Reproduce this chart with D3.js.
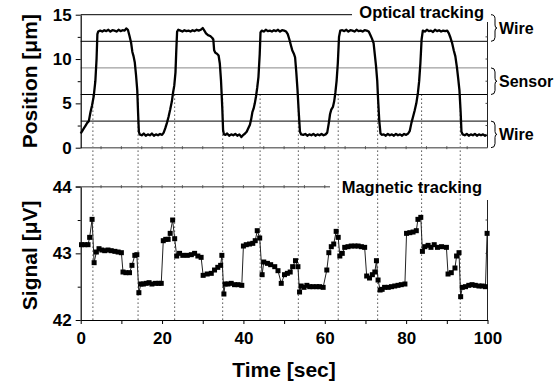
<!DOCTYPE html>
<html>
<head>
<meta charset="utf-8">
<script src="https://cdn.jsdelivr.net/npm/d3@7"></script>
<style>
  body { margin: 0; background: #fff; }
  svg { font-family: "Liberation Sans", Arial, sans-serif; font-weight: bold; }
</style>
</head>
<body>
<svg id="chart" width="557" height="385"></svg>
<script>
// optical tracking trace [time (s), position (um)]
const opticalTrace = [
  [0,1.6],[0.4,1.9],[0.8,2.2],[1.2,2.5],[1.6,2.8],[2.0,3.0],[2.4,4.0],[2.8,4.8],[3.2,5.8],[3.6,7.5],[3.9,10],[4.1,12.8],[4.3,13.1],
  [4.8,13.2],[5.3,13.1],[5.8,13.25],[6.3,13.15],[6.8,13.3],[7.3,13.1],[7.8,13.25],[8.3,13.2],[8.8,13.1],[9.3,13.3],[9.8,13.15],[10.3,13.25],[10.8,13.2],[11.2,13.45],[11.6,13.3],
  [12.0,12.6],[12.4,11.8],[12.7,10.8],[13.0,10.3],[13.3,9.6],[13.6,8.2],[13.9,6.5],[14.1,4.0],[14.3,1.8],[14.5,1.5],
  [15,1.4],[15.5,1.6],[16,1.35],[16.5,1.5],[17,1.4],[17.5,1.6],[18,1.35],[18.5,1.5],[19,1.4],[19.5,1.55],[20,1.45],[20.4,1.7],
  [20.8,2.2],[21.2,2.8],[21.6,3.5],[22.0,4.3],[22.4,5.2],[22.7,6.2],[23.0,7.0],[23.3,8.5],[23.5,11],[23.7,13.1],[24.0,13.3],
  [24.5,13.2],[25,13.1],[25.5,13.25],[26,13.15],[26.5,13.2],[27,13.1],[27.5,13.25],[28,13.15],[28.5,13.3],[29,13.2],[29.5,13.3],[30,13.5],[30.4,13.2],
  [30.8,12.9],[31.3,12.7],[31.8,12.6],[32.3,12.4],[32.6,12.2],[32.8,11.0],[33.1,10.7],[33.5,10.6],[33.9,10.4],[34.2,9.5],[34.5,7.5],[34.8,4.5],[35.0,2.0],[35.2,1.5],
  [35.6,1.45],[36,1.6],[36.5,1.35],[37,1.5],[37.5,1.4],[38,1.55],[38.5,1.35],[39,1.5],[39.5,1.2],[40,1.45],[40.4,1.6],
  [40.8,1.8],[41.2,2.2],[41.6,2.6],[41.9,3.2],[42.2,4.0],[42.5,4.4],[42.8,5.0],[43.1,5.8],[43.4,6.8],[43.7,8.0],[44.0,10.5],[44.2,13.0],[44.5,13.2],
  [45,13.1],[45.5,13.3],[46,13.15],[46.5,13.2],[47,13.1],[47.5,13.25],[48,13.15],[48.5,13.3],[49,13.1],[49.5,13.25],[50,13.2],[50.5,13.1],
  [50.9,12.8],[51.3,12.2],[51.7,11.5],[52.0,11.0],[52.4,10.6],[52.7,10.2],[53.0,8.5],[53.3,6.5],[53.6,4.0],[53.9,1.8],[54.2,1.5],
  [54.7,1.45],[55.2,1.55],[55.7,1.35],[56.2,1.5],[56.7,1.4],[57.2,1.55],[57.7,1.35],[58.2,1.5],[58.7,1.4],[59.2,1.55],[59.7,1.4],[60.2,1.5],[60.6,1.7],
  [61.0,2.8],[61.3,3.8],[61.6,4.3],[62.0,4.6],[62.3,5.2],[62.6,6.2],[62.9,7.5],[63.2,9.5],[63.5,12.5],[63.8,13.2],
  [64.3,13.25],[64.8,13.15],[65.3,13.3],[65.8,13.1],[66.3,13.25],[66.8,13.2],[67.3,13.1],[67.8,13.3],[68.3,13.15],[68.8,13.2],[69.3,13.1],[69.8,13.25],[70.3,13.2],[70.8,13.1],
  [71.2,12.7],[71.6,12.3],[72.0,11.8],[72.3,10.5],[72.6,9.2],[72.9,7.5],[73.1,5.5],[73.4,3.0],[73.7,1.6],[74.0,1.45],
  [74.5,1.5],[75,1.35],[75.5,1.55],[76,1.4],[76.5,1.5],[77,1.35],[77.5,1.55],[78,1.4],[78.5,1.5],[79,1.35],[79.5,1.55],[80,1.45],[80.5,1.6],[80.9,1.9],
  [81.3,2.8],[81.7,3.5],[82.1,4.2],[82.5,5.0],[82.9,6.2],[83.2,7.5],[83.5,9.5],[83.8,12.2],[84.1,13.2],
  [84.6,13.1],[85.1,13.3],[85.6,13.15],[86.1,13.2],[86.6,13.05],[87.1,13.3],[87.6,13.15],[88.1,13.25],[88.6,13.1],[89.1,13.2],[89.6,13.15],[90.1,13.2],
  [90.5,12.9],[90.9,12.4],[91.3,11.8],[91.7,11.0],[92.1,10.3],[92.5,9.0],[92.8,7.8],[93.1,6.5],[93.4,4.0],[93.6,1.8],[93.9,1.5],
  [94.4,1.4],[94.9,1.55],[95.4,1.35],[95.9,1.5],[96.4,1.4],[96.9,1.55],[97.4,1.35],[97.9,1.5],[98.4,1.4],[98.9,1.5],[99.4,1.35],[99.8,1.45]
];

// magnetic tracking signal [time (s), signal (uV)]
const magneticTrace = [
  [0.2,43.13],[1.0,43.13],[1.8,43.13],[2.2,43.24],[2.8,43.51],[3.3,42.86],[3.85,43.02],[4.5,43.07],[5.2,43.05],[5.9,43.04],
  [6.7,43.05],[7.5,43.04],[8.4,43.03],[9.2,43.02],[10.0,43.01],[10.4,42.72],[11.1,42.71],[12.0,42.71],[12.6,42.82],[13.3,42.97],
  [13.8,42.98],[14.3,42.41],[14.8,42.54],[15.4,42.54],[16.1,42.55],[16.8,42.56],[17.5,42.54],[18.4,42.55],[19.2,42.55],[19.8,42.55],
  [20.3,43.19],[20.9,43.21],[21.5,43.21],[22.0,43.30],[22.6,43.5],[23.1,43.22],[23.6,42.96],[24.3,43.0],[25.1,42.97],[26.2,42.97],
  [27.2,42.98],[28.0,43.0],[28.8,42.96],[29.6,42.94],[30.1,42.67],[31.1,42.69],[32.1,42.70],[32.9,42.75],[33.7,42.79],[34.4,42.82],
  [34.7,42.97],[35.2,42.39],[35.5,42.54],[36.2,42.54],[37.0,42.55],[37.8,42.53],[38.7,42.53],[39.6,42.52],[40.0,43.11],[40.7,43.13],
  [41.5,43.14],[42.3,43.15],[42.9,43.19],[43.4,43.34],[44.0,43.23],[44.6,42.68],[45.0,42.87],[45.9,42.85],[46.7,42.83],[47.7,42.80],
  [48.5,42.74],[49.3,42.55],[50.1,42.68],[50.8,42.70],[51.5,42.72],[52.1,42.80],[52.8,42.89],[53.4,42.80],[53.8,42.42],[54.2,42.51],
  [54.9,42.49],[55.6,42.52],[56.3,42.50],[57.1,42.50],[58.0,42.50],[58.7,42.50],[59.6,42.49],[60.5,42.75],[61.0,43.01],[61.6,43.10],
  [62.2,43.14],[62.8,43.33],[63.3,43.24],[63.7,42.96],[64.3,43.0],[64.9,43.09],[65.7,43.10],[66.5,43.11],[67.4,43.11],[68.2,43.11],
  [69.0,43.10],[69.8,43.09],[70.3,42.66],[71.0,42.63],[71.7,42.68],[72.3,42.72],[72.7,42.89],[73.1,42.60],[73.6,42.45],[74.1,42.46],
  [74.7,42.49],[75.6,42.49],[76.4,42.50],[77.2,42.51],[78.0,42.52],[78.8,42.53],[79.7,42.54],[80.1,43.30],[80.9,43.31],[81.7,43.32],
  [82.5,43.34],[82.9,43.51],[83.6,43.54],[84.0,43.03],[84.6,43.10],[85.4,43.12],[86.1,43.09],[86.9,43.13],[87.7,43.09],[88.7,43.10],
  [89.9,43.09],[90.3,42.69],[91.1,42.71],[92.0,42.78],[92.4,42.96],[93.0,43.01],[93.4,42.35],[93.8,42.49],[94.6,42.50],[95.4,42.52],
  [96.2,42.53],[97.0,42.52],[97.9,42.51],[98.7,42.51],[99.5,42.50],[99.9,43.30]
];

// times of the dotted markers
const markerTimes = [3.0, 14.1, 23.1, 34.9, 44.1, 53.5, 63.3, 73.0, 83.8, 93.3];

// horizontal guide levels in the top panel
const guideLevels = [12, 9, 6, 3];
const guideColors = ['#000', '#888', '#000', '#000'];

// region braces [from, to, label]
const regions = [[15, 12, 'Wire'], [9, 6, 'Sensor'], [3, 0, 'Wire']];

const xTicksLabelled = [0, 20, 40, 60, 80, 100];
const topTicks = [0, 5, 10, 15];
const botTicks = [42, 43, 44];

const svg = d3.select('#chart');

const x = d3.scaleLinear().domain([0, 100]).range([80.7, 487.5]);
const yTop = d3.scaleLinear().domain([0, 15]).range([147.7, 14.7]);
const yBot = d3.scaleLinear().domain([42, 44]).range([320, 186.7]);

// dotted markers
svg.append('g').selectAll('line')
  .data(markerTimes)
  .enter().append('line')
    .attr('x1', d => x(d)).attr('x2', d => x(d))
    .attr('y1', yTop(6)).attr('y2', yBot(42))
    .attr('stroke', '#333')
    .attr('stroke-width', 1)
    .attr('stroke-dasharray', '1.3,2.7');

// ---- top panel
const topPanel = svg.append('g');

topPanel.selectAll('.guide')
  .data(guideLevels)
  .enter().append('line')
    .attr('class', 'guide')
    .attr('x1', x(0)).attr('x2', x(100))
    .attr('y1', d => yTop(d)).attr('y2', d => yTop(d))
    .attr('stroke', (d, i) => guideColors[i])
    .attr('stroke-width', 1);

// top frame line, stops before the title
topPanel.append('line')
  .attr('x1', x(0)).attr('x2', 352)
  .attr('y1', yTop(15)).attr('y2', yTop(15))
  .attr('stroke', '#000');

// bottom line of top panel
topPanel.append('line')
  .attr('x1', x(0)).attr('x2', x(100))
  .attr('y1', yTop(0)).attr('y2', yTop(0))
  .attr('stroke', '#777').attr('stroke-width', 1.5);
topPanel.append('g')
  .attr('transform', `translate(0,${yTop(0)})`)
  .selectAll('line').data(d3.range(5, 100, 5)).enter().append('line')
    .attr('x1', d => x(d)).attr('x2', d => x(d))
    .attr('y1', -1.5).attr('y2', 1.5)
    .attr('stroke', '#555');

// right edge of top panel
topPanel.append('line')
  .attr('x1', x(100)).attr('x2', x(100))
  .attr('y1', 22).attr('y2', yTop(0))
  .attr('stroke', '#222');
topPanel.selectAll('.rtick').data(d3.range(2.5, 15, 2.5)).enter().append('line')
  .attr('class', 'rtick')
  .attr('x1', x(100) - 2).attr('x2', x(100))
  .attr('y1', d => yTop(d)).attr('y2', d => yTop(d))
  .attr('stroke', '#444');

// left axis with minor ticks
topPanel.append('g')
  .attr('transform', `translate(${x(0)},0)`)
  .call(d3.axisLeft(yTop).tickValues([2.5, 7.5, 12.5]).tickSize(3).tickFormat(''))
  .call(g => g.select('.domain').remove());
const topAxis = topPanel.append('g')
  .attr('transform', `translate(${x(0)},0)`)
  .call(d3.axisLeft(yTop).tickValues(topTicks).tickSize(5).tickPadding(4).tickSizeOuter(0).tickFormat(d3.format('d')));
topAxis.select('.domain').attr('stroke-width', 1.2);
topAxis.selectAll('text').attr('font-size', 17).attr('font-weight', 'bold').attr('font-family', null);

topPanel.append('path')
  .datum(opticalTrace)
  .attr('fill', 'none')
  .attr('stroke', '#000')
  .attr('stroke-width', 2.3)
  .attr('stroke-linejoin', 'round')
  .attr('d', d3.line().x(d => x(d[0])).y(d => yTop(d[1])));

topPanel.append('text')
  .attr('x', 484).attr('y', 18)
  .attr('text-anchor', 'end')
  .attr('font-size', 16.5)
  .text('Optical tracking');

// braces on the right
const brace = (y0, y1) => {
  const xa = 491, xb = 497, m = (y0 + y1) / 2;
  return `M${xa},${y0} Q${xa + 4},${y0} ${xa + 4},${y0 + 4} L${xa + 4},${m - 3} Q${xa + 4},${m} ${xb},${m}` +
         ` Q${xa + 4},${m} ${xa + 4},${m + 3} L${xa + 4},${y1 - 4} Q${xa + 4},${y1} ${xa},${y1}`;
};
const reg = topPanel.selectAll('.region').data(regions).enter().append('g').attr('class', 'region');
reg.append('path')
  .attr('d', d => brace(yTop(d[0]), yTop(d[1])))
  .attr('fill', 'none').attr('stroke', '#000').attr('stroke-width', 1);
reg.append('text')
  .attr('x', 499)
  .attr('y', d => (yTop(d[0]) + yTop(d[1])) / 2 + 6)
  .attr('font-size', 16)
  .text(d => d[2]);

// ---- bottom panel
const botPanel = svg.append('g');

botPanel.append('line')
  .attr('x1', x(0) - 5).attr('x2', 330)
  .attr('y1', yBot(44)).attr('y2', yBot(44))
  .attr('stroke', '#777').attr('stroke-width', 1.5);
botPanel.append('g')
  .selectAll('line').data(d3.range(5, 65, 5)).enter().append('line')
    .attr('x1', d => x(d)).attr('x2', d => x(d))
    .attr('y1', yBot(44) - 1.5).attr('y2', yBot(44) + 1.5)
    .attr('stroke', '#555');

botPanel.append('line')
  .attr('x1', x(100)).attr('x2', x(100))
  .attr('y1', 200).attr('y2', yBot(42))
  .attr('stroke', '#222');
botPanel.selectAll('.rtick').data([42.5, 43, 43.5]).enter().append('line')
  .attr('class', 'rtick')
  .attr('x1', x(100) - 2).attr('x2', x(100))
  .attr('y1', d => yBot(d)).attr('y2', d => yBot(d))
  .attr('stroke', '#444');

botPanel.append('g')
  .attr('transform', `translate(${x(0)},0)`)
  .call(d3.axisLeft(yBot).tickValues([42.5, 43.5]).tickSize(3).tickFormat(''))
  .call(g => g.select('.domain').remove());
const botAxis = botPanel.append('g')
  .attr('transform', `translate(${x(0)},0)`)
  .call(d3.axisLeft(yBot).tickValues(botTicks).tickSize(5).tickPadding(4).tickSizeOuter(0).tickFormat(d3.format('d')));
botAxis.select('.domain').attr('stroke-width', 1.2);
botAxis.selectAll('text').attr('font-size', 17).attr('font-weight', 'bold').attr('font-family', null);

const xAxis = botPanel.append('g')
  .attr('transform', `translate(0,${yBot(42)})`)
  .call(d3.axisBottom(x).tickValues(d3.range(0, 101, 10)).tickSize(4).tickPadding(8).tickSizeOuter(0)
    .tickFormat(d => xTicksLabelled.includes(d) ? d : ''));
xAxis.select('.domain').attr('stroke-width', 1.2);
xAxis.selectAll('text').attr('font-size', 17).attr('font-weight', 'bold').attr('font-family', null);

const magLine = d3.line().x(d => x(d[0])).y(d => yBot(d[1]));
botPanel.append('path')
  .datum(magneticTrace)
  .attr('fill', 'none')
  .attr('stroke', '#222')
  .attr('stroke-width', 1)
  .attr('d', magLine);
botPanel.selectAll('.pt')
  .data(magneticTrace)
  .enter().append('rect')
    .attr('class', 'pt')
    .attr('x', d => x(d[0]) - 2.5)
    .attr('y', d => yBot(d[1]) - 2.5)
    .attr('width', 5).attr('height', 5)
    .attr('fill', '#000');

botPanel.append('text')
  .attr('x', 482).attr('y', 193)
  .attr('text-anchor', 'end')
  .attr('font-size', 16.5)
  .text('Magnetic tracking');

// axis titles
svg.append('text')
  .attr('transform', `translate(37,${(yTop(0) + yTop(15)) / 2}) rotate(-90)`)
  .attr('text-anchor', 'middle')
  .attr('font-size', 21)
  .text('Position [μm]');
svg.append('text')
  .attr('transform', `translate(37,${(yBot(42) + yBot(44)) / 2 + 2}) rotate(-90)`)
  .attr('text-anchor', 'middle')
  .attr('font-size', 21)
  .text('Signal [μV]');
svg.append('text')
  .attr('x', 284).attr('y', 377)
  .attr('text-anchor', 'middle')
  .attr('font-size', 21)
  .text('Time [sec]');
</script>
</body>
</html>
